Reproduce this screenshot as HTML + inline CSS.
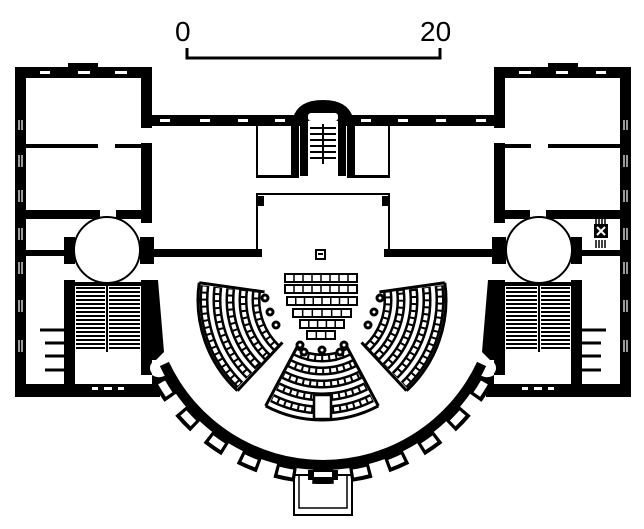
<!DOCTYPE html>
<html><head><meta charset="utf-8"><style>
html,body{margin:0;padding:0;background:#fff;width:644px;height:529px;overflow:hidden}
svg{display:block}
text{font-family:"Liberation Sans",sans-serif}
</style></head><body>
<svg id="s" width="644" height="529" viewBox="0 0 644 529" xmlns="http://www.w3.org/2000/svg">
<text x="175" y="41" font-size="28">0</text>
<text x="420" y="41" font-size="28">20</text>
<path d="M187 48 V58 H440 V48" fill="none" stroke="#000" stroke-width="3"/>

<defs>
<g id="wing">
  <rect x="68" y="63" width="30" height="6" fill="#000"/>
  <rect x="15" y="67" width="137" height="11" fill="#000"/>
  <rect x="40" y="71" width="10" height="3" fill="#fff"/>
  <rect x="78" y="71" width="12" height="3" fill="#fff"/>
  <rect x="115" y="71" width="12" height="3" fill="#fff"/>
  <rect x="15" y="67" width="11" height="330" fill="#000"/>
  <g stroke="#fff" stroke-width="1.2">
    <path d="M19 120v10M22 120v10M19 155v12M22 155v12M19 190v12M22 190v12M19 228v12M22 228v12M19 262v12M22 262v12M19 300v12M22 300v12M19 340v12M22 340v12"/>
  </g>
  <rect x="141" y="67" width="11" height="61" fill="#000"/>
  <rect x="141" y="143" width="11" height="80" fill="#000"/>
  <rect x="26" y="144" width="72" height="4" fill="#000"/>
  <rect x="115" y="144" width="28" height="4" fill="#000"/>
  <rect x="26" y="210" width="74" height="9" fill="#000"/>
  <rect x="116" y="210" width="36" height="9" fill="#000"/>
  <rect x="64" y="237" width="11" height="27" fill="#000"/>
  <rect x="140" y="237" width="14" height="27" fill="#000"/>
  <circle cx="107" cy="250" r="33" fill="#fff" stroke="#000" stroke-width="2"/>
  <rect x="26" y="250" width="40" height="6" fill="#000"/>
  <rect x="152" y="249" width="110" height="8" fill="#000"/>
  <rect x="256" y="193" width="2" height="60" fill="#000"/>
  <rect x="64" y="280" width="11" height="117" fill="#000"/>
  <rect x="141" y="280" width="11" height="95" fill="#000"/>
  <rect x="75" y="282" width="66" height="4" fill="#000"/>
  <g id="hatch" stroke="#000" stroke-width="2"></g>
  <rect x="106" y="286" width="2" height="66" fill="#000"/>
  <rect x="17" y="384" width="143" height="13" fill="#000"/>
  <rect x="92" y="387" width="6" height="3" fill="#fff"/><rect x="104" y="387" width="8" height="3" fill="#fff"/><rect x="118" y="387" width="6" height="3" fill="#fff"/>
  <g stroke="#000" stroke-width="3">
    <path d="M40 330H64M45 343H64M45 356H64M45 370H64"/>
  </g>
  <polygon points="152,280 158,280 164,352 156,360 152,360" fill="#000"/>
  <path d="M152 355 a12 12 0 0 0 14 20 L170 380 L160 384 L152 384Z" fill="#000"/>
  <circle cx="158" cy="368" r="8" fill="#fff"/>
  <rect x="152" y="115" width="145" height="11" fill="#000"/>
  <rect x="160" y="119" width="10" height="3" fill="#fff"/><rect x="200" y="119" width="10" height="3" fill="#fff"/><rect x="238" y="119" width="10" height="3" fill="#fff"/><rect x="275" y="119" width="10" height="3" fill="#fff"/>
  <rect x="256" y="126" width="2" height="51" fill="#000"/>
  <rect x="256" y="175" width="40" height="3" fill="#000"/>
  <rect x="291" y="126" width="8" height="52" fill="#000"/>
  <rect x="256" y="193" width="68" height="2" fill="#000"/>
  <path d="M258 196 h6 v10 h-6z" fill="#000"/>
</g>
</defs>

<use href="#wing"/>
<use href="#wing" transform="translate(646,0) scale(-1,1)"/>

<path d="M293 118 Q298 100 323 100 Q348 100 353 118 L353 126 L293 126Z" fill="#000"/>
<rect x="308" y="113" width="30" height="8" fill="#fff" rx="3"/>
<rect x="308" y="121" width="30" height="44" fill="#fff"/>
<g stroke="#000" stroke-width="2"><path d="M310 128h26M310 134h26M310 140h26M310 146h26M310 152h26M310 158h26"/></g>
<rect x="322" y="124" width="2" height="40" fill="#000"/>
<rect x="300" y="126" width="8" height="50" fill="#000"/>
<rect x="338" y="126" width="8" height="50" fill="#000"/>
<rect x="347" y="126" width="8" height="52" fill="#000"/>

<rect x="594" y="224" width="14" height="14" fill="#000"/>
<path d="M597 227l8 8M605 227l-8 8" stroke="#fff" stroke-width="2"/>
<g stroke="#000" stroke-width="1.5"><path d="M596 216v8M599 216v8M602 216v8M605 216v8M596 240v8M599 240v8M602 240v8M605 240v8"/></g>

<g id="outer"></g>
<rect x="294" y="475" width="58" height="40" fill="none" stroke="#000" stroke-width="2"/>
<rect x="299" y="475" width="48" height="33" fill="none" stroke="#000" stroke-width="1.5"/>
<rect x="308" y="470" width="30" height="10" fill="#000"/>
<rect x="314" y="472" width="18" height="5" fill="#fff"/>

<g id="seats"></g>
<rect x="316" y="250" width="9" height="9" fill="none" stroke="#000" stroke-width="2"/>
<path d="M318 254h5" stroke="#000" stroke-width="2"/>
<g id="desks"></g>
<rect x="314" y="395" width="17" height="24" fill="#fff" stroke="#000" stroke-width="2.5"/>
</svg>
<script>
var NS="http://www.w3.org/2000/svg";
function el(p,t,a){var e=document.createElementNS(NS,t);for(var k in a)e.setAttribute(k,a[k]);p.appendChild(e);return e;}
var h=document.getElementById('hatch');var d="";
for(var y=288;y<352;y+=4){d+="M76 "+y+"H105M109 "+y+"H140";}
el(h,'path',{d:d});
var cx=323,cy=290,o=document.getElementById('outer');
function pt(r,a){a=a*Math.PI/180;return [cx+r*Math.cos(a),cy+r*Math.sin(a)];}
function ann(r1,r2,a1,a2){var p1=pt(r2,a1),p2=pt(r2,a2),p3=pt(r1,a2),p4=pt(r1,a1);
 var lg=Math.abs(a2-a1)>180?1:0;
 return "M"+p1+" A"+r2+" "+r2+" 0 "+lg+" 0 "+p2+" L"+p3+" A"+r1+" "+r1+" 0 "+lg+" 1 "+p4+"Z";}
el(o,'path',{d:ann(170,180,155,25),fill:'#000'});
for(var a=148;a>=32;a-=11.6){
  el(o,'path',{d:ann(178,194,a+3.2,a-3.2),fill:'#000'});
  el(o,'path',{d:ann(182,190,a+2.2,a-2.2),fill:'#fff'});
}
var s=document.getElementById('seats');
var scx=322,scy=300;
function arc(r,a1,a2){var A=a1*Math.PI/180,B=a2*Math.PI/180;
 var p1=[scx+r*Math.cos(A),scy+r*Math.sin(A)],p2=[scx+r*Math.cos(B),scy+r*Math.sin(B)];
 return "M"+p1+" A"+r+" "+r+" 0 0 "+(a2>a1?1:0)+" "+p2;}
var sectors=[[188,133,58,124],[118,62,50,120],[47,-8,58,124]];
sectors.forEach(function(sc){
  el(s,'path',{d:arc(sc[3],sc[0],sc[1]),fill:'none',stroke:'#000','stroke-width':3});
  for(var r=sc[2]+8;r<sc[3];r+=13){
    el(s,'path',{d:arc(r,sc[0]-1,sc[1]+1),fill:'none',stroke:'#000','stroke-width':9});
    el(s,'path',{d:arc(r,sc[0]-1.5,sc[1]+1.5),fill:'none',stroke:'#fff','stroke-width':4,'stroke-dasharray':'5 2'});
  }
  [sc[0],sc[1]].forEach(function(a){var A=a*Math.PI/180;
   el(s,'path',{d:"M"+(scx+sc[2]*Math.cos(A))+" "+(scy+sc[2]*Math.sin(A))+"L"+(scx+sc[3]*Math.cos(A))+" "+(scy+sc[3]*Math.sin(A)),stroke:'#000','stroke-width':3});});
});
[[265,298],[270,312],[276,325],[380,298],[374,312],[368,325],[304,352],[322,350],[340,352],[300,345],[344,345]].forEach(function(p){
  el(s,'circle',{cx:p[0],cy:p[1],r:4.5,fill:'#000'});el(s,'circle',{cx:p[0],cy:p[1],r:1.5,fill:'#fff'});});
var dk=document.getElementById('desks');
[[285,274,72,8],[285,285,72,8],[287,297,70,8],[293,309,58,8],[300,320,44,8],[307,331,28,8]].forEach(function(r){
  el(dk,'rect',{x:r[0],y:r[1],width:r[2],height:r[3],fill:'#fff',stroke:'#000','stroke-width':2});
  var n=Math.round(r[2]/9);for(var i=1;i<n;i++){el(dk,'line',{x1:r[0]+i*r[2]/n,y1:r[1],x2:r[0]+i*r[2]/n,y2:r[1]+r[3],stroke:'#000','stroke-width':1.5});}
});
</script>
</body></html>
